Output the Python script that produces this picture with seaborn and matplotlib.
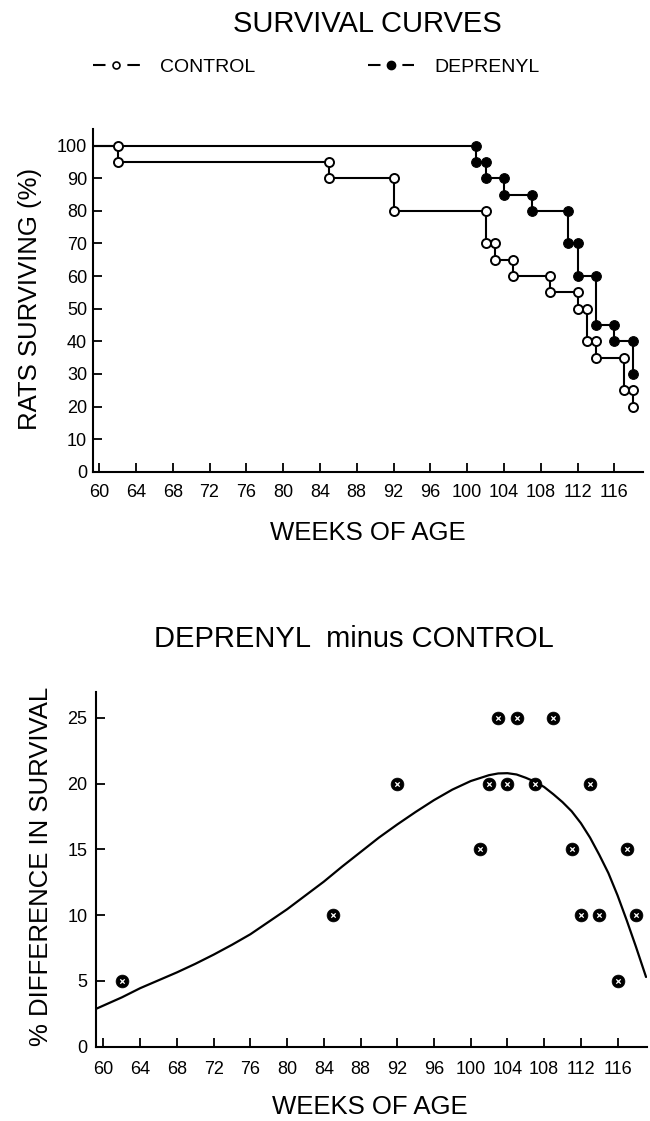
import numpy as np
import pandas as pd
import matplotlib
matplotlib.use("Agg")
import matplotlib.pyplot as plt
from matplotlib.lines import Line2D
import seaborn as sns

# ==============================
# Data
# ==============================

# weeks where a rat died, and % surviving after that week
control_weeks = [62, 85, 92, 102, 103, 105, 109, 112, 113, 114, 117, 118]
control_surv = [95, 90, 80, 70, 65, 60, 55, 50, 40, 35, 25, 20]

deprenyl_weeks = [101, 102, 104, 107, 111, 112, 114, 116, 118]
deprenyl_surv = [95, 90, 85, 80, 70, 60, 45, 40, 30]

start_surv = 100

# deprenyl minus control
diff_weeks = [62, 85, 92, 101, 102, 103, 104, 105, 107, 109, 111, 112, 113, 114, 116, 117, 118]
diff_values = [5, 10, 20, 15, 20, 25, 20, 25, 20, 25, 15, 10, 20, 10, 5, 15, 10]

# fitted curve, read point by point
curve_weeks = [59.1, 62, 64, 66, 68, 70, 72, 74, 76, 78, 80, 82, 84, 86, 88, 90,
               92, 94, 96, 98, 100, 102, 103, 104, 105, 106, 107, 108, 109, 110,
               111, 112, 113, 114, 115, 116, 117, 118, 119.1]
curve_values = [2.85, 3.75, 4.45, 5.05, 5.65, 6.3, 7.0, 7.75, 8.55, 9.5, 10.45,
                11.5, 12.55, 13.7, 14.8, 15.9, 16.9, 17.85, 18.75, 19.55, 20.2,
                20.65, 20.78, 20.8, 20.7, 20.45, 20.15, 19.75, 19.2, 18.6, 17.9,
                17.0, 15.9, 14.6, 13.2, 11.5, 9.6, 7.6, 5.3]

week_ticks = list(range(60, 117, 4))
surv_ticks = list(range(0, 101, 10))
diff_ticks = list(range(0, 26, 5))


def km_steps(weeks, surv, start):
    # two vertices per death: level before and level after
    xs, ys = [], []
    prev = start
    for w, s in zip(weeks, surv):
        xs += [w, w]
        ys += [prev, s]
        prev = s
    return pd.DataFrame({"week": xs, "surv": ys})


# ==============================
# Style
# ==============================

sns.set_style("ticks")
plt.rcParams["font.family"] = ["Liberation Sans", "DejaVu Sans"]
plt.rcParams["axes.linewidth"] = 1.5
for key in ["text.color", "axes.labelcolor", "xtick.color", "ytick.color", "axes.edgecolor"]:
    plt.rcParams[key] = "black"

fig = plt.figure(figsize=(6.5, 11.21), dpi=100)

# ==============================
# Survival curves
# ==============================

ax1 = fig.add_axes([0.1426, 0.5792, 0.8471, 0.3054])
x_lo1, x_hi1 = 59.3, 119.15
ax1.set_xlim(x_lo1, x_hi1)
ax1.set_ylim(0, 105)

ctrl = km_steps(control_weeks, control_surv, start_surv)
dep = km_steps(deprenyl_weeks, deprenyl_surv, start_surv)

# flat part from the axis to the first death
ax1.plot([x_lo1, deprenyl_weeks[0]], [start_surv, start_surv], color="black", lw=1.5, zorder=2)
ax1.plot([x_lo1, control_weeks[0]], [start_surv, start_surv], color="black", lw=1.5, zorder=2)

sns.lineplot(data=dep, x="week", y="surv", sort=False, estimator=None,
             color="black", lw=1.5, marker="o", markersize=7,
             markerfacecolor="black", markeredgecolor="black", ax=ax1, zorder=3)
sns.lineplot(data=ctrl, x="week", y="surv", sort=False, estimator=None,
             color="black", lw=1.5, marker="o", markersize=6.5,
             markerfacecolor="white", markeredgecolor="black", markeredgewidth=1.4,
             ax=ax1, zorder=4)

ax1.set_xticks(week_ticks)
ax1.set_yticks(surv_ticks)
ax1.tick_params(axis="both", direction="in", length=6.5, width=1.3, labelsize=13,
                bottom=True, left=True)
ax1.tick_params(axis="x", pad=9)
ax1.tick_params(axis="y", pad=4)
sns.despine(ax=ax1)

ax1.set_xlabel("WEEKS OF AGE", fontsize=18.5, va="center")
ax1.xaxis.set_label_coords(0.5, -0.179)
ax1.set_ylabel("RATS SURVIVING (%)", fontsize=18.5, va="center")
ax1.yaxis.set_label_coords(-0.114, 0.506)

fig.text(0.565, 0.9715, "SURVIVAL CURVES", ha="center", va="baseline", fontsize=21)

handles = [
    Line2D([], [], color="black", lw=1.5, ls=(0, (6, 10.5)), marker="o", markersize=5,
           markerfacecolor="white", markeredgecolor="black", markeredgewidth=1.2),
    Line2D([], [], color="black", lw=1.5, ls=(0, (6, 10.5)), marker="o", markersize=6,
           markerfacecolor="black", markeredgecolor="black"),
]
fig.legend(handles, ["CONTROL", "DEPRENYL"], loc="center left",
           bbox_to_anchor=(0.1426, 1 - 67.3 / 1121), ncol=2, frameon=False,
           fontsize=14, handlelength=2.41, handletextpad=1.03, columnspacing=5.8,
           borderpad=0, borderaxespad=0)

# ==============================
# Difference plot
# ==============================

ax2 = fig.add_axes([0.1472, 0.0663, 0.8477, 0.3167])
ax2.set_xlim(59.15, 119.17)
ax2.set_ylim(0, 27)

sns.lineplot(x=curve_weeks, y=curve_values, sort=False, estimator=None,
             color="black", lw=1.6, ax=ax2, zorder=2)
sns.scatterplot(x=diff_weeks, y=diff_values, s=85, color="black",
                edgecolor="black", linewidth=0.5, ax=ax2, zorder=3)
sns.scatterplot(x=diff_weeks, y=diff_values, s=10, marker="x", color="white",
                linewidth=0.9, ax=ax2, zorder=4)

ax2.set_xticks(week_ticks)
ax2.set_yticks(diff_ticks)
ax2.tick_params(axis="both", direction="in", length=6.5, width=1.3, labelsize=13,
                bottom=True, left=True)
ax2.tick_params(axis="x", pad=10)
ax2.tick_params(axis="y", pad=6)
sns.despine(ax=ax2)

ax2.set_xlabel("WEEKS OF AGE", fontsize=18.5, va="center")
ax2.xaxis.set_label_coords(0.498, -0.170)
ax2.set_ylabel("% DIFFERENCE IN SURVIVAL", fontsize=18.5, va="center")
ax2.yaxis.set_label_coords(-0.100, 0.5076)

fig.text(0.5446, 1 - 646.7 / 1121, "DEPRENYL  minus CONTROL", ha="center",
         va="baseline", fontsize=21)

fig.savefig("out.png", dpi=100)
